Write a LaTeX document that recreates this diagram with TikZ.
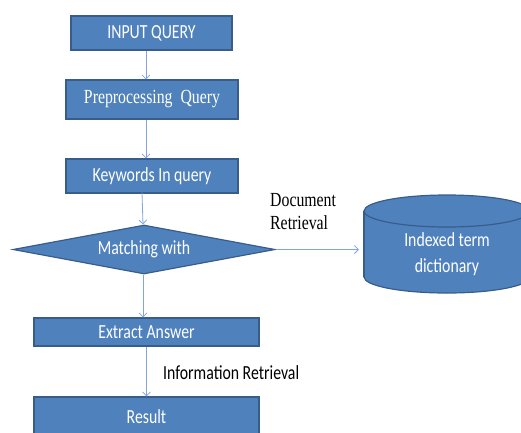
\documentclass[tikz,border=0pt]{standalone}
\usepackage{fontspec}
\usetikzlibrary{shapes.geometric,arrows.meta}
\newfontfamily\calf[FakeStretch=0.79]{Carlito}
\newfontfamily\timf[FakeStretch=0.79]{Liberation Serif}
\definecolor{boxfill}{HTML}{4F81BD}
\definecolor{boxline}{HTML}{385D8A}
\definecolor{arrline}{HTML}{7FA6DA}
\begin{document}
\begin{tikzpicture}[x=1pt,y=-1pt,
  box/.style={draw=boxline,fill=boxfill,line width=1.2pt,inner sep=0pt,
    text=white,font=\calf\fontsize{20}{24}\selectfont},
  decis/.style={diamond,draw=boxline,fill=boxfill,line width=1.2pt,inner sep=0pt,aspect=5,
    text=white,font=\calf\fontsize{20}{24}\selectfont},
  arr/.style={draw=arrline,line width=0.8pt,-{Straight Barb[length=4pt,width=8pt]}},
  lbl/.style={inner sep=0pt,text=black,align=left}]
\useasboundingbox (0,0) rectangle (521,432);
\clip (0,0) rectangle (521,432);
\node[box,minimum width=161pt,minimum height=34pt] (in) at (151.5,33) {INPUT QUERY};
\node[box,minimum width=172pt,minimum height=39pt,font=\timf\fontsize{20}{24}\selectfont] (pre) at (152,99.5) {Preprocessing\ \ Query};
\node[box,minimum width=172pt,minimum height=34pt] (kw) at (152,176) {Keywords In query};
\node[decis,minimum width=262pt,minimum height=49pt] (match) at (144,249.5) {Matching with};
\node[box,minimum width=225pt,minimum height=28pt] (ext) at (146.5,332) {Extract Answer};
\node[box,minimum width=225pt,minimum height=40pt] (res) at (146.5,417) {Result};
% cylinder
\filldraw[draw=boxline,fill=boxfill,line width=1.2pt] (447,277) ellipse [x radius=83pt,y radius=16pt];
\fill[boxfill] (364,211) rectangle (530,277);
\draw[boxline,line width=1.2pt] (364,211) -- (364,277) (530,211) -- (530,277);
\filldraw[draw=boxline,fill=boxfill,line width=1.2pt] (447,211) ellipse [x radius=83pt,y radius=16pt];
\node[inner sep=0pt,text=white,align=center,font=\calf\fontsize{20}{26}\selectfont] (dict) at (447,254) {Indexed term\\dictionary};
\coordinate (dictin) at (359,249.5);
% labels
\node[lbl,anchor=west,font=\timf\fontsize{20}{23}\selectfont] (doclbl) at (270,212) {Document\\Retrieval};
\node[lbl,anchor=west,font=\calf\fontsize{20}{24}\selectfont] (irlbl) at (163,373) {Information Retrieval};
% arrows
\draw[arr] ([xshift=-5.5pt]in.south) -- ([xshift=-5.5pt]in.south |- pre.north);
\draw[arr] ([xshift=-6pt]pre.south) -- ([xshift=-6pt]pre.south |- kw.north);
\draw[arr] ([xshift=-10pt,yshift=1pt]kw.south) -- ([xshift=-1pt]match.north);
\draw[arr] ([xshift=-1pt]match.south) -- ([xshift=-3.5pt]ext.north);
\draw[arr] (ext.south) -- (res.north);
\draw[arr] (match.east) -- (dictin);
\end{tikzpicture}
\end{document}
